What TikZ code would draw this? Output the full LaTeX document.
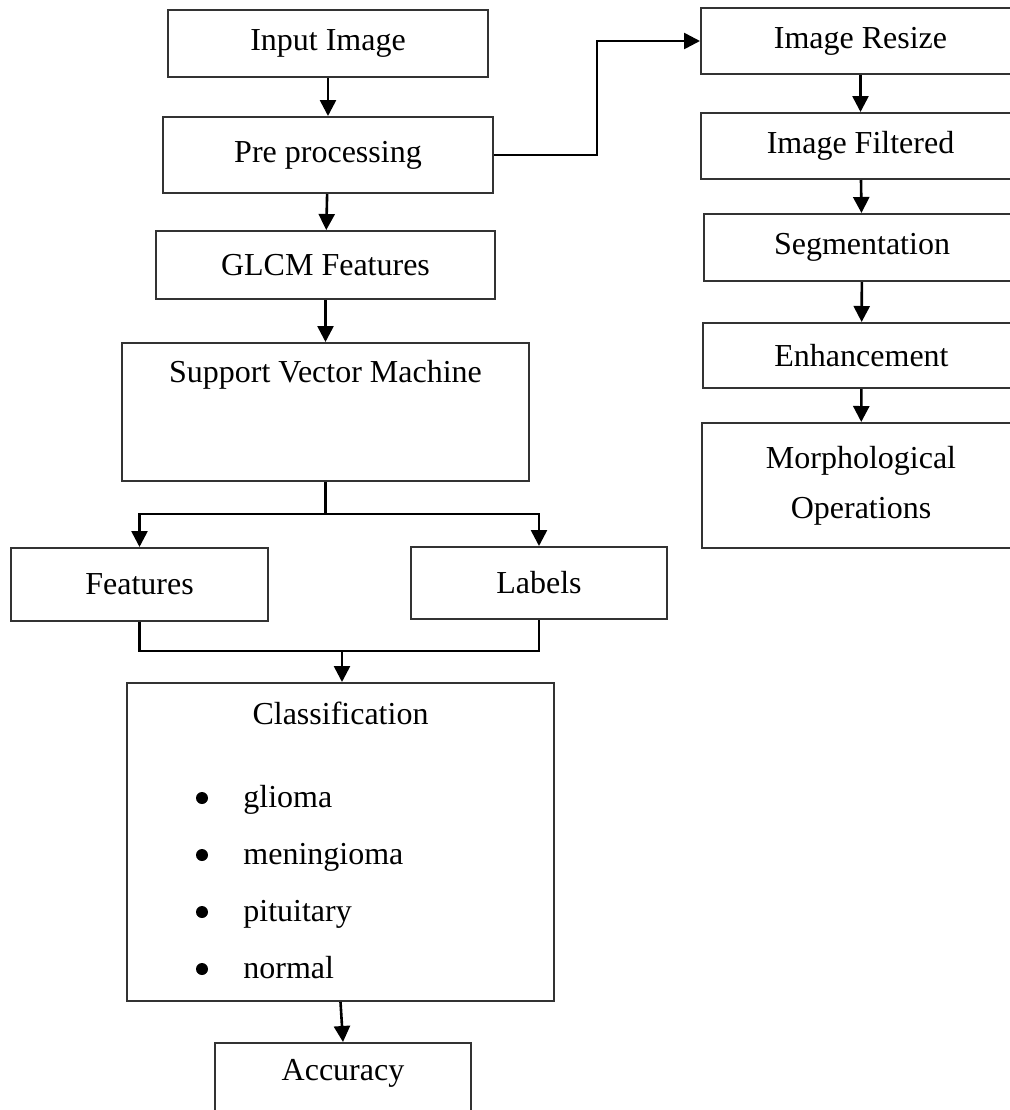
\documentclass[tikz,border=0pt]{standalone}
\usepackage{fontspec}
\setmainfont{Liberation Serif}
\usetikzlibrary{arrows.meta}

\begin{document}
\begin{tikzpicture}[x=0.5pt,y=-0.5pt,
    block/.style={draw=black!80,line width=1pt,rectangle,inner sep=0pt,font=\fontsize{16}{19}\selectfont},
    txt/.style={inner sep=0pt,font=\fontsize{16}{19}\selectfont},
    dot/.style={circle,fill=black,inner sep=0pt,minimum size=6pt},
    link/.style={line width=1.3pt},
    flow/.style={link,-{Triangle[length=8pt,width=8pt]}}]
  \useasboundingbox (0,0) rectangle (1010,1110);
  % left column
  \node[block,minimum width=160pt,minimum height=33.5pt] (inimg) at (328,43.5) {Input Image};
  \node[block,minimum width=165pt,minimum height=38pt] (pre) at (328,155) {Pre processing};
  \node[block,minimum width=169.5pt,minimum height=34pt] (glcm) at (325.5,265) {GLCM Features};
  \node[block,minimum width=203.5pt,minimum height=69pt] (svm) at (325.5,412) {};
  \node[txt] (svmtxt) at (325.5,375) {Support Vector Machine};
  \node[block,minimum width=128.5pt,minimum height=36.5pt] (feat) at (139.5,584.5) {Features};
  \node[block,minimum width=128pt,minimum height=36pt] (lab) at (539,583) {Labels};
  \node[block,minimum width=213.5pt,minimum height=159pt] (cls) at (340.5,842) {};
  \node[txt] (clstxt) at (340.5,713) {Classification};
  \foreach \name/\lbl/\ypos in {gli/glioma/807, men/meningioma/864, pit/pituitary/921, nor/normal/978} {
    \node[dot] (\name dot) at (202,\ypos-9) {};
    \node[txt,anchor=base west] (\name) at (243,\ypos) {\lbl};
  }
  \node[block,minimum width=128pt,minimum height=38.5pt] (acc) at (343,1081.5) {};
  \node[txt] (acctxt) at (343,1073) {Accuracy};
  % right column
  \node[block,minimum width=159.5pt,minimum height=33pt] (resize) at (860.5,41) {Image Resize};
  \node[block,minimum width=159.5pt,minimum height=33pt] (filt) at (860.5,146) {Image Filtered};
  \node[block,minimum width=158pt,minimum height=33.5pt] (seg) at (862,247.5) {Segmentation};
  \node[block,minimum width=158.5pt,minimum height=32.5pt] (enh) at (861.5,355.5) {Enhancement};
  \node[block,minimum width=159pt,minimum height=62.5pt,align=center,font=\fontsize{16}{25}\selectfont] (morph) at (861,485.5) {Morphological\\Operations};
  % connectors
  \coordinate (split) at (325.5,514);
  \coordinate (merge) at (342,651);
  \coordinate (bend) at (597,155);
  \draw[flow] (inimg) -- (pre);
  \draw[flow] (pre) -- (glcm);
  \draw[flow] (glcm) -- (svm);
  \draw[link] (svm.south) -- (split);
  \draw[flow] (split) -| (feat.north);
  \draw[flow] (split) -| (lab.north);
  \draw[link] (feat.south) |- (merge) -| (lab.south);
  \draw[flow] (merge) -- (merge |- cls.north);
  \draw[flow] (cls.south) -- (acc.north);
  \draw[flow] (pre.east) -- (bend) |- (resize.west);
  \draw[flow] (resize) -- (filt);
  \draw[flow] (filt) -- (seg);
  \draw[flow] (seg) -- (enh);
  \draw[flow] (enh) -- (morph);
\end{tikzpicture}
\end{document}
